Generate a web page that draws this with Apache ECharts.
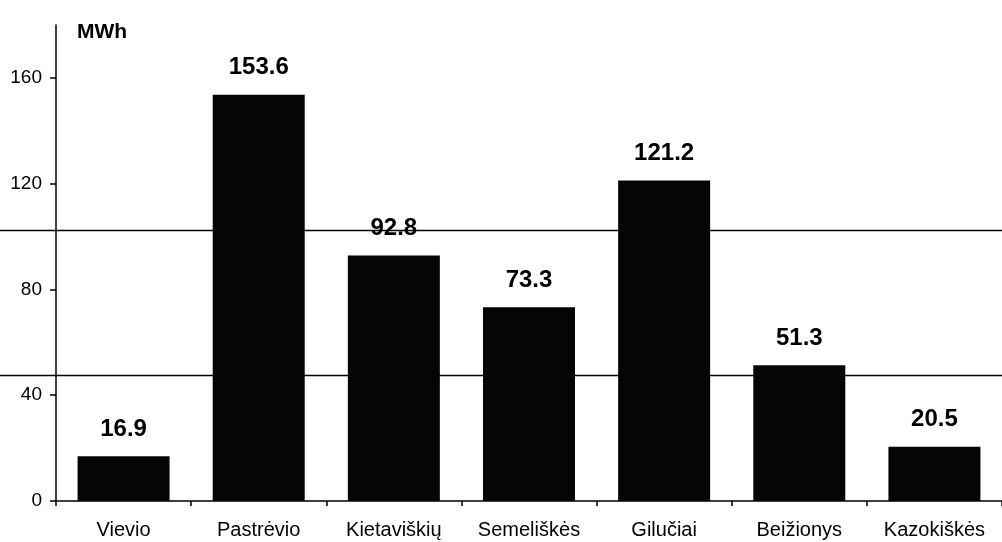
<!DOCTYPE html>
<html>
<head>
<meta charset="utf-8">
<script src="https://cdn.jsdelivr.net/npm/echarts@6/dist/echarts.min.js"></script>
<style>
  html, body { margin: 0; padding: 0; background: #fff; }
  #main { width: 1002px; height: 542px; }
</style>
</head>
<body>
<div id="main"></div>
<script>
var places = ['Vievio', 'Pastrėvio', 'Kietaviškių', 'Semeliškės', 'Gilučiai', 'Beižionys', 'Kazokiškės'];
var energy = [16.9, 153.6, 92.8, 73.3, 121.2, 51.3, 20.5];
var yTicks = [0, 40, 80, 120, 160];
// the two stray horizontal lines in the scan, read as values on the y axis
var scanLines = [102.3, 47.7];

var font = 'Arial, "Liberation Sans", sans-serif';
var chart = echarts.init(document.getElementById('main'));

chart.setOption({
  animation: false,
  title: {
    text: 'MWh',
    left: 72,
    top: 17,
    textStyle: { fontFamily: font, fontSize: 21, fontWeight: 'bold', color: '#000' }
  },
  grid: { left: 56, right: -10, top: 25, bottom: 41 },
  xAxis: {
    type: 'category',
    data: places,
    axisLine: { lineStyle: { color: '#000', width: 1.5 } },
    axisTick: { show: true, length: 5, interval: 0, lineStyle: { color: '#000', width: 1.5 } },
    axisLabel: { color: '#000', fontFamily: font, fontSize: 20, margin: 19, interval: 0 }
  },
  yAxis: {
    type: 'value',
    min: 0,
    max: 180,
    interval: 40,
    axisLine: { show: true, lineStyle: { color: '#000', width: 1.5 } },
    axisTick: { show: true, length: 6, customValues: yTicks, lineStyle: { color: '#000', width: 1.5 } },
    axisLabel: {
      color: '#000', fontFamily: font, fontSize: 19, margin: 14,
      customValues: yTicks
    },
    splitLine: { show: false }
  },
  series: [{
    type: 'bar',
    data: energy,
    barWidth: 92,
    itemStyle: { color: '#050505' },
    label: {
      show: true,
      position: 'top',
      distance: 15,
      color: '#000',
      fontFamily: font,
      fontSize: 24,
      fontWeight: 'bold',
      formatter: function (p) { return p.value.toFixed(1); }
    },
    z: 3
  }]
});

var w = chart.getWidth();
chart.setOption({
  graphic: scanLines.map(function (v) {
    var y = Math.round(chart.convertToPixel({ yAxisIndex: 0 }, v)) + 0.5;
    return {
      type: 'line',
      z: 1,
      shape: { x1: 0, y1: y, x2: w, y2: y },
      style: { stroke: '#000', lineWidth: 1.5 }
    };
  })
});
</script>
</body>
</html>
